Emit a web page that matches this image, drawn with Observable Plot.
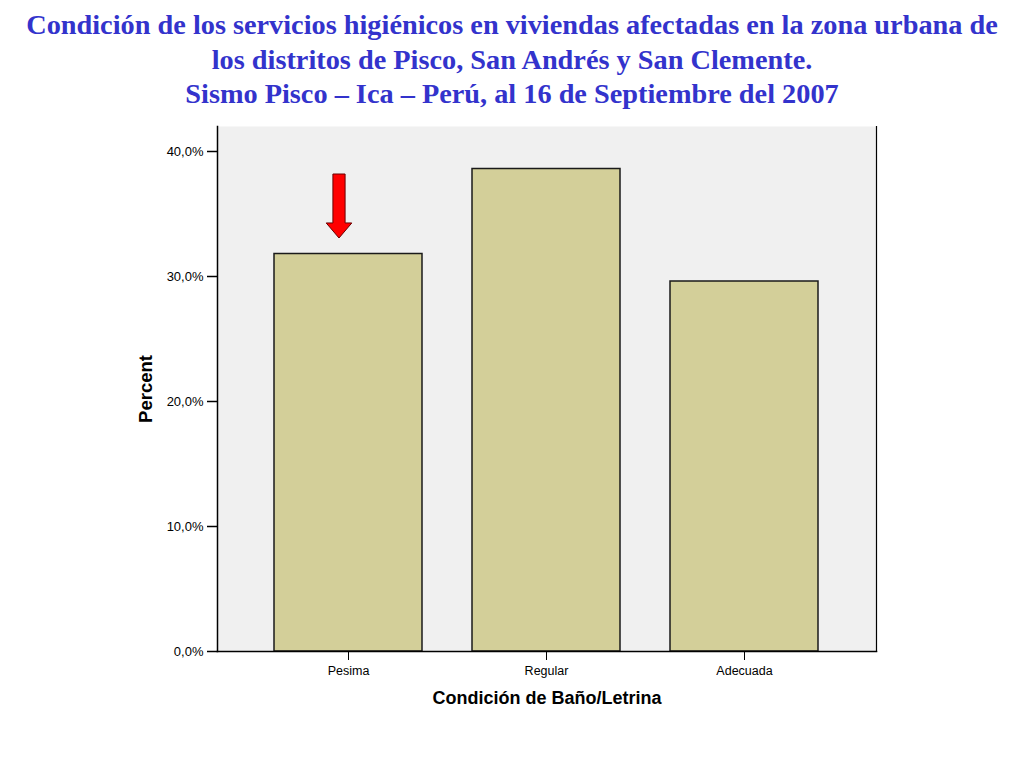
<!DOCTYPE html>
<html>
<head>
<meta charset="utf-8">
<script src="https://cdn.jsdelivr.net/npm/d3@7"></script>
<script src="https://cdn.jsdelivr.net/npm/@observablehq/plot@0.6"></script>
<style>
  html, body { margin: 0; padding: 0; background: #ffffff; }
  #title {
    height: 112px; box-sizing: border-box; padding-top: 8px;
    text-align: center; color: #3333CC;
    font-family: "Liberation Serif", "Times New Roman", serif;
    font-weight: bold; font-size: 28.3px; line-height: 34.5px;
  }
  #chart svg { display: block; }
</style>
</head>
<body>
<div id="title">Condición de los servicios higiénicos en viviendas afectadas en la zona urbana de<br>los distritos de Pisco, San Andrés y San Clemente.<br>Sismo Pisco – Ica – Perú, al 16 de Septiembre del 2007</div>
<div id="chart"></div>
<script>
const categories = ["Pesima", "Regular", "Adecuada"];
const percents = [31.8, 38.6, 29.6];
const yTicks = [0, 10, 20, 30, 40];
const xLabel = "Condición de Baño/Letrina";
const yLabel = "Percent";
const highlighted = ["Pesima"];

const data = categories.map((c, i) => ({cat: c, pct: percents[i]}));
const arrowData = data.filter(d => highlighted.includes(d.cat));

const blockArrow = {
  draw(context, size) {
    const r = Math.sqrt(size / Math.PI);
    const sw = 0.19 * r, hw = 0.4 * r, hs = 0.53 * r;
    context.moveTo(-sw, -r);
    context.lineTo(sw, -r);
    context.lineTo(sw, hs);
    context.lineTo(hw, hs);
    context.lineTo(0, r);
    context.lineTo(-hw, hs);
    context.lineTo(-sw, hs);
    context.closePath();
  }
};

const chart = Plot.plot({
  width: 1024,
  height: 656,
  marginTop: 14,
  marginBottom: 117,
  marginLeft: 217,
  marginRight: 148,
  style: {fontFamily: "'Liberation Sans', Arial, sans-serif", background: "#ffffff", color: "#000"},
  x: {domain: categories, paddingInner: 0.2525, paddingOuter: 0.29, label: null},
  y: {domain: [0, 42], label: null},
  marks: [
    Plot.frame({fill: "#f0f0f0", stroke: null}),
    Plot.barY(data, {x: "cat", y: "pct", fill: "#D3CF99", stroke: "#1a1a1a", strokeWidth: 1.5}),
    Plot.frame({anchor: "left", stroke: "#000", strokeWidth: 1.5}),
    Plot.frame({anchor: "right", stroke: "#000", strokeWidth: 1.2}),
    Plot.frame({anchor: "bottom", stroke: "#000", strokeWidth: 1.5}),
    Plot.axisY({ticks: yTicks, tickSize: 10, tickPadding: 4, fontSize: 13, strokeWidth: 1.5,
      tickFormat: d => d.toFixed(1).replace(".", ",") + "%", label: null}),
    Plot.axisX({tickSize: 9, tickPadding: 6, fontSize: 12.5, strokeWidth: 1, label: null}),
    Plot.text([xLabel], {frameAnchor: "bottom", dy: 47, lineAnchor: "middle", fontSize: 18, fontWeight: "bold", text: d => d}),
    Plot.text([yLabel], {frameAnchor: "left", dx: -71, rotate: -90, textAnchor: "middle", lineAnchor: "middle", fontSize: 18.5, fontWeight: "bold", text: d => d}),
    Plot.dot(arrowData, {x: "cat", y: "pct", dx: -9.5, dy: -48, r: 32, symbol: blockArrow,
      fill: "#ff0000", stroke: "#6a0000", strokeWidth: 1})
  ]
});
document.getElementById("chart").appendChild(chart);
</script>
</body>
</html>
